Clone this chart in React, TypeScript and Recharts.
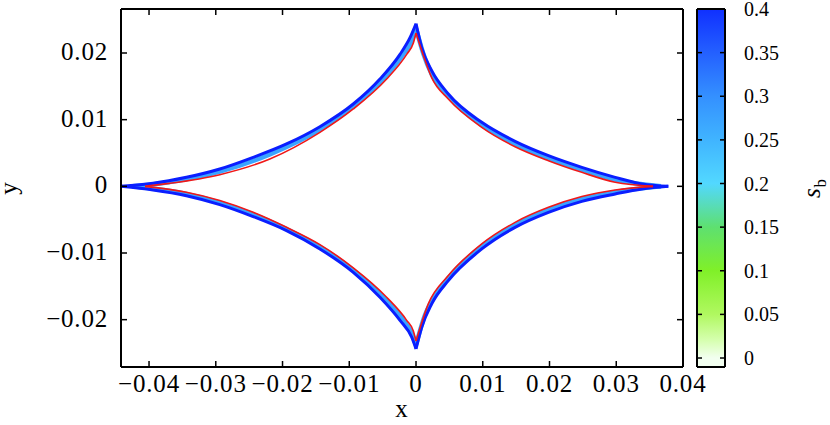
import { LineChart, Line, XAxis, YAxis, BarChart, Bar } from "recharts"

const xTicks = [-0.04, -0.03, -0.02, -0.01, 0, 0.01, 0.02, 0.03, 0.04]
const yTicks = [-0.02, -0.01, 0, 0.01, 0.02]
const sbTicks = [0, 0.05, 0.1, 0.15, 0.2, 0.25, 0.3, 0.35, 0.4]

// outer edge of the band (s_b = 0.4, blue)
const outerUpperLeft = [
  [-0.0442, 0], [-0.0394, 0.00045], [-0.0344, 0.00135], [-0.0294, 0.0026], [-0.0244, 0.00435],
  [-0.0194, 0.00636], [-0.0144, 0.00895], [-0.0094, 0.01235], [-0.0054, 0.0161], [-0.0024, 0.0198],
  [-0.0009, 0.0223], [0, 0.0244],
]
const outerUpperRight = [
  [0, 0.0244], [0.00085, 0.0208], [0.00235, 0.01735], [0.00484, 0.01385], [0.00985, 0.0096],
  [0.01484, 0.00675], [0.01984, 0.0046], [0.02484, 0.00285], [0.02984, 0.00135], [0.03384, 0.00036],
  [0.0378, 0],
]
const outerLowerLeft = [
  [-0.0442, 0], [-0.0394, -0.00054], [-0.0344, -0.0014], [-0.0294, -0.00274], [-0.0244, -0.00454],
  [-0.0194, -0.00664], [-0.0144, -0.00939], [-0.0094, -0.0129], [-0.0054, -0.01664], [-0.0024, -0.0201],
  [-0.00064, -0.02264], [0, -0.0244],
]
const outerLowerRight = [
  [0, -0.0244], [0.00085, -0.02114], [0.00235, -0.01763], [0.00484, -0.01414], [0.00985, -0.00939],
  [0.01484, -0.00615], [0.01984, -0.0039], [0.02484, -0.00225], [0.02984, -0.00114], [0.03384, -0.00039],
  [0.0378, 0],
]

// light-blue middle of the band
const midUpperLeft = [
  [-0.0425, 0], [-0.0381, 0.00045], [-0.0294, 0.0022], [-0.0219, 0.0048], [-0.0144, 0.0085],
  [-0.0094, 0.012], [-0.0049, 0.0161], [-0.0019, 0.0198], [-0.0006, 0.0219], [0, 0.0237],
]
const midUpperRight = [
  [0, 0.0237], [0.0011, 0.0199], [0.00235, 0.0168], [0.00484, 0.0135], [0.00985, 0.0092], [0.01484, 0.00635],
  [0.01984, 0.0042], [0.02484, 0.0025], [0.02984, 0.001], [0.0367, 0],
]
const midLowerLeft = [
  [-0.0425, 0], [-0.0344, -0.00115], [-0.0294, -0.00244], [-0.0244, -0.0042], [-0.0194, -0.0064],
  [-0.0144, -0.0091], [-0.0094, -0.01257], [-0.0049, -0.01664], [-0.0019, -0.0201], [-0.0006, -0.0221], [0, -0.0238],
]
const midLowerRight = [
  [0, -0.0238], [0.0013, -0.0194], [0.00235, -0.0172], [0.00484, -0.01377], [0.00985, -0.009], [0.01484, -0.0058],
  [0.01984, -0.0035], [0.02484, -0.0019], [0.02984, -0.00084], [0.0367, 0],
]

// inner red curve
const innerUpperLeft = [
  [-0.0406, 0], [-0.0369, 0.00045], [-0.0294, 0.00175], [-0.0219, 0.0041], [-0.0144, 0.0081],
  [-0.0094, 0.0116], [-0.0044, 0.0161], [-0.0014, 0.0198], [-0.0004, 0.0215], [0, 0.023],
]
const innerUpperRight = [
  [0, 0.023], [0.00135, 0.0189], [0.00235, 0.0163], [0.00484, 0.0131], [0.00985, 0.00885], [0.01484, 0.00595],
  [0.01984, 0.00385], [0.02484, 0.0021], [0.02984, 0.0006], [0.0355, 0],
]
const innerLowerLeft = [
  [-0.0406, 0], [-0.0344, -0.0009], [-0.0294, -0.00214], [-0.0244, -0.0039], [-0.0194, -0.00615],
  [-0.0144, -0.00874], [-0.0094, -0.01223], [-0.0044, -0.01664], [-0.0014, -0.0201], [-0.0004, -0.0217], [0, -0.0232],
]
const innerLowerRight = [
  [0, -0.0232], [0.00184, -0.01763], [0.00484, -0.01339], [0.00985, -0.00864], [0.01484, -0.0054],
  [0.01984, -0.00315], [0.02484, -0.00154], [0.02984, -0.00054], [0.0355, 0],
]

// colour map of s_b
const sbStops = [0, 0.02, 0.05, 0.1, 0.15, 0.175, 0.2, 0.25, 0.3, 0.35, 0.4]
const sbColors = ["#f2fff0", "#d6ffb0", "#b0f860", "#80f028", "#5ee070", "#58dcb8", "#52d8ff", "#40b4ff", "#3490ff", "#2460ff", "#1030ff"]

const xMin = -0.0442
const yMin = -0.0271
const yMax = 0.0266
const sbMin = -0.0103

const font = "'Liberation Serif', 'Times New Roman', serif"

const outerCurves = [outerUpperLeft, outerUpperRight, outerLowerLeft, outerLowerRight]
const midCurves = [midUpperLeft, midUpperRight, midLowerLeft, midLowerRight]
const innerCurves = [innerUpperLeft, innerUpperRight, innerLowerLeft, innerLowerRight]

const pts = (arr: number[][]) => arr.map(([x, y]) => ({ x, y }))
const fmt = (v: number) => {
  if (v === 0) return "0"
  const s = Math.abs(v).toString()
  return v < 0 ? "\u2212" + s : s
}

const bigText = { fontSize: 25, fontFamily: font, fill: "#000", letterSpacing: 0.8 }
const smallText = { fontSize: 20, fontFamily: font, fill: "#000" }

function XTick({ x, y, payload }: any) {
  return (
    <g>
      <line x1={x} x2={x} y1={y} y2={y - 6} stroke="#000" strokeWidth={1.5} />
      <text x={x} y={y + 25} textAnchor="middle" style={bigText}>
        {fmt(payload.value)}
      </text>
    </g>
  )
}

function XTopTick({ x, y }: any) {
  return <line x1={x} x2={x} y1={y} y2={y + 6} stroke="#000" strokeWidth={1.5} />
}

function YTick({ x, y, payload }: any) {
  return (
    <g>
      <line x1={x} x2={x + 6} y1={y} y2={y} stroke="#000" strokeWidth={1.5} />
      <text x={x - 13} y={y + 7} textAnchor="end" style={bigText}>
        {fmt(payload.value)}
      </text>
    </g>
  )
}

function YRightTick({ x, y }: any) {
  return <line x1={x} x2={x - 6} y1={y} y2={y} stroke="#000" strokeWidth={1.5} />
}

function SbTick({ x, y, payload }: any) {
  return (
    <g>
      <line x1={x} x2={x - 5} y1={y} y2={y} stroke="#000" strokeWidth={1.5} />
      <line x1={x - 28} x2={x - 23} y1={y} y2={y} stroke="#000" strokeWidth={1.5} />
      <text x={x + 19} y={y + 7} textAnchor="start" style={smallText}>
        {fmt(payload.value)}
      </text>
    </g>
  )
}

const colorbarData = [{ name: "sb", range: [sbMin, 0.4] }]

export default function App() {
  const axisLine = { stroke: "#000", strokeWidth: 2 }
  const lineProps = { dataKey: "y", type: "monotoneX" as const, dot: false, activeDot: false, isAnimationActive: false }
  return (
    <div style={{ position: "absolute", left: 0, top: 0, width: 830, height: 425, background: "#fff" }}>
      <div style={{ position: "absolute", left: 0, top: 0 }}>
        <LineChart width={830} height={425} margin={{ top: 8, right: 146, bottom: 57, left: 120 }}>
          <XAxis type="number" dataKey="x" domain={[xMin, 0.04]} ticks={xTicks} interval={0} allowDataOverflow
            height={1} tickSize={0} tickMargin={0} tickLine={false} axisLine={axisLine} tick={<XTick />} />
          <XAxis xAxisId="top" orientation="top" type="number" dataKey="x" domain={[xMin, 0.04]} ticks={xTicks} interval={0}
            allowDataOverflow height={1} tickSize={0} tickMargin={0} tickLine={false} axisLine={axisLine} tick={<XTopTick />} />
          <YAxis type="number" dataKey="y" domain={[yMin, yMax]} ticks={yTicks} interval={0} allowDataOverflow
            width={1} tickSize={0} tickMargin={0} tickLine={false} axisLine={axisLine} tick={<YTick />} />
          <YAxis yAxisId="right" orientation="right" type="number" dataKey="y" domain={[yMin, yMax]} ticks={yTicks} interval={0}
            allowDataOverflow width={1} tickSize={0} tickMargin={0} tickLine={false} axisLine={axisLine} tick={<YRightTick />} />
          {midCurves.map((c, i) => (
            <Line key={"mid" + i} data={pts(c)} {...lineProps} stroke="#3aa4ff" strokeWidth={4.5} />
          ))}
          {outerCurves.map((c, i) => (
            <Line key={"outer" + i} data={pts(c)} {...lineProps} stroke="#0a1eff" strokeWidth={3} />
          ))}
          {innerCurves.map((c, i) => (
            <Line key={"inner" + i} data={pts(c)} {...lineProps} stroke="#f01818" strokeWidth={1.6} />
          ))}
          <text x={402} y={417} textAnchor="middle" style={bigText}>x</text>
          <text x={17} y={188} textAnchor="middle" style={bigText} transform="rotate(-90 17 188)">y</text>
        </LineChart>
      </div>
      <div style={{ position: "absolute", left: 690, top: 0 }}>
        <BarChart width={140} height={425} data={colorbarData} margin={{ top: 8, right: 104, bottom: 57, left: 6 }}
          barCategoryGap={0}>
          <defs>
            <linearGradient id="sbGrad" x1="0" y1="1" x2="0" y2="0">
              {sbStops.map((v, i) => (
                <stop key={v} offset={(v - sbMin) / (0.4 - sbMin)} stopColor={sbColors[i]} />
              ))}
            </linearGradient>
          </defs>
          <XAxis dataKey="name" height={1} tick={false} tickLine={false} axisLine={axisLine} />
          <XAxis xAxisId="top" orientation="top" dataKey="name" height={1} tick={false} tickLine={false} axisLine={axisLine} />
          <YAxis yAxisId="left" type="number" domain={[sbMin, 0.4]} width={1} tick={false} tickLine={false} axisLine={axisLine} />
          <YAxis type="number" orientation="right" domain={[sbMin, 0.4]} ticks={sbTicks} interval={0} width={1}
            allowDataOverflow tickSize={0} tickMargin={0} tickLine={false} axisLine={axisLine} tick={<SbTick />} />
          <Bar dataKey="range" fill="url(#sbGrad)" isAnimationActive={false} />
          <text x={130} y={188} textAnchor="middle" style={bigText} transform="rotate(-90 130 188)">
            <tspan fontStyle="italic">s</tspan>
            <tspan fontSize={17} dy={6}>b</tspan>
          </text>
        </BarChart>
      </div>
    </div>
  )
}
